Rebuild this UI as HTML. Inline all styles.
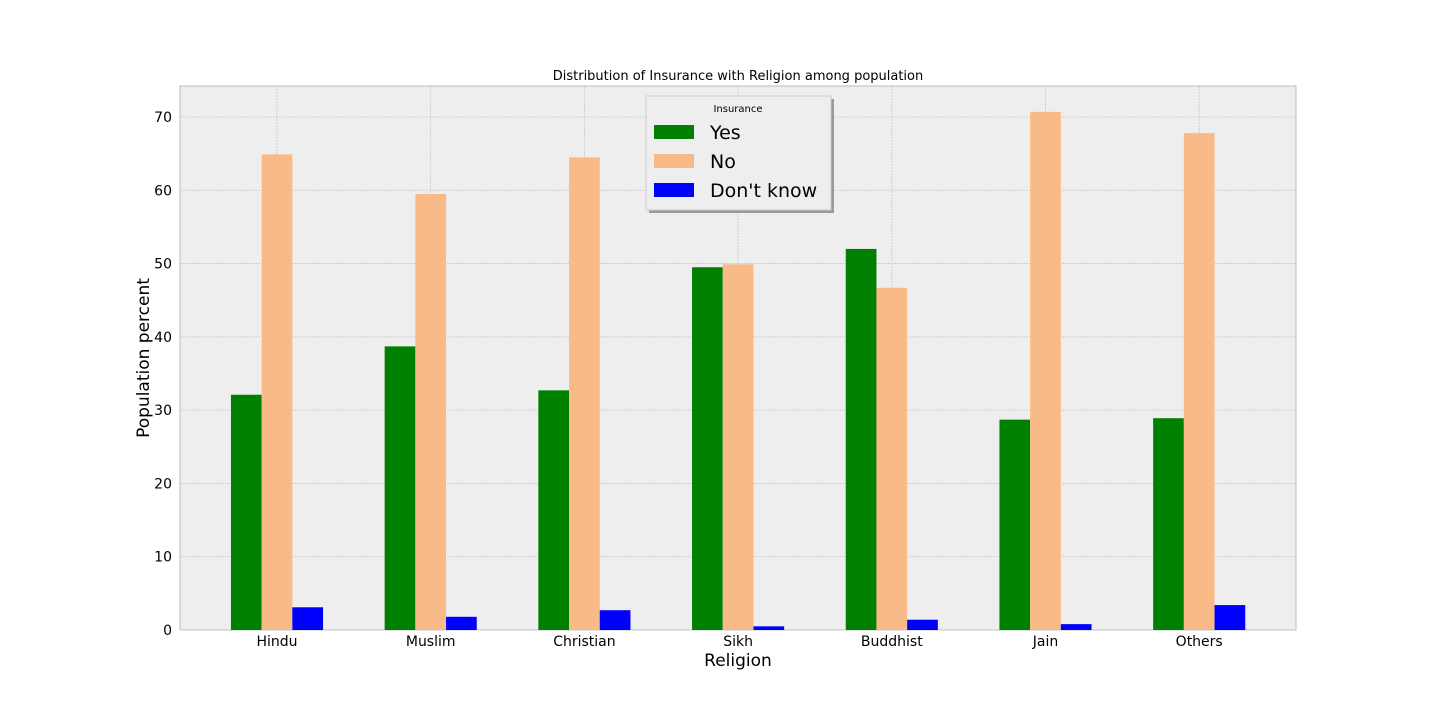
<!DOCTYPE html>
<html><head><meta charset="utf-8"><style>
body{margin:0;background:#fff;width:1440px;height:720px;overflow:hidden;font-family:"Liberation Sans","DejaVu Sans",sans-serif;}
</style></head><body>
<svg id="chart" width="1440" height="720" xmlns="http://www.w3.org/2000/svg" font-family="DejaVu Sans, Liberation Sans, sans-serif"></svg>
<script>
const categories=["Hindu","Muslim","Christian","Sikh","Buddhist","Jain","Others"];
const yesVals=[32.1,38.7,32.7,49.5,52.0,28.7,28.9];
const noVals=[64.9,59.5,64.5,49.9,46.7,70.7,67.8];
const dkVals=[3.1,1.8,2.7,0.5,1.4,0.8,3.4];
const yTicks=[0,10,20,30,40,50,60,70];
const NS="http://www.w3.org/2000/svg";
const svg=document.getElementById('chart');
const L=180,R=1296,T=86,B=630;
const yScale=v=>B-v*(513/70);
const step=153.7, x0=277;
const xScale=i=>x0+i*step;
const bw=30.7;
function mk(tag,attrs,parent){const e=document.createElementNS(NS,tag);for(const k in attrs)e.setAttribute(k,attrs[k]);(parent||svg).appendChild(e);return e;}
const bg=mk('rect',{x:L,y:T,width:R-L,height:B-T,fill:'#eeeeee',stroke:'#bcbcbc','stroke-width':1});


// grids
yTicks.forEach(t=>{
 const y=yScale(t);
 const g=mk('line',{x1:L,x2:R,y1:y,y2:y,stroke:'#c8c8c8','stroke-width':0.8,'stroke-dasharray':'2,1'});
 
 
 const tx=mk('text',{x:L-8,y:y+5,'text-anchor':'end','font-size':14,fill:'#000'});
 tx.textContent=t;
 
 
});
categories.forEach((c,i)=>{
 const x=xScale(i);
 const g=mk('line',{x1:x,x2:x,y1:T,y2:B,stroke:'#c8c8c8','stroke-width':0.8,'stroke-dasharray':'2,1'});
 
 
});
const series=[[yesVals,'#008000','yes'],[noVals,'#f8bb87','no'],[dkVals,'#0000ff','dont-know']];
categories.forEach((c,i)=>{
 series.forEach((s,j)=>{
  const v=s[0][i];
  const x=xScale(i)+(j-1.5)*bw;
  const r=mk('rect',{x:x,y:yScale(v),width:bw,height:B-yScale(v),fill:s[1]});
  
  
 });
 const tx=mk('text',{x:xScale(i),y:B+16,'text-anchor':'middle','font-size':14});
 tx.textContent=c;
 
 
});
const title=mk('text',{x:738,y:80,'text-anchor':'middle','font-size':13});
title.textContent='Distribution of Insurance with Religion among population';


const xt=mk('text',{x:738,y:666,'text-anchor':'middle','font-size':17});
xt.textContent='Religion';


const yt=mk('text',{x:0,y:0,'text-anchor':'middle','font-size':17,transform:'translate(149,358) rotate(-90)'});
yt.textContent='Population percent';


// legend
const lg=mk('g',{});


mk('rect',{x:649,y:99,width:185,height:114,fill:'#999'},lg);
mk('rect',{x:646,y:96,width:185,height:114,fill:'#eeeeee',stroke:'#ccc'},lg);
const lt=mk('text',{x:738,y:112,'text-anchor':'middle','font-size':10},lg);
lt.textContent='Insurance';


const labels=['Yes','No',"Don't know"];
series.forEach((s,j)=>{
 const y=125+j*29;
 const sw=mk('rect',{x:654,y:y,width:40,height:14,fill:s[1]},lg);
 
 
 const t=mk('text',{x:710,y:y+14,'font-size':19},lg);
 t.textContent=labels[j];
 
 
});
</script>
</body></html>
